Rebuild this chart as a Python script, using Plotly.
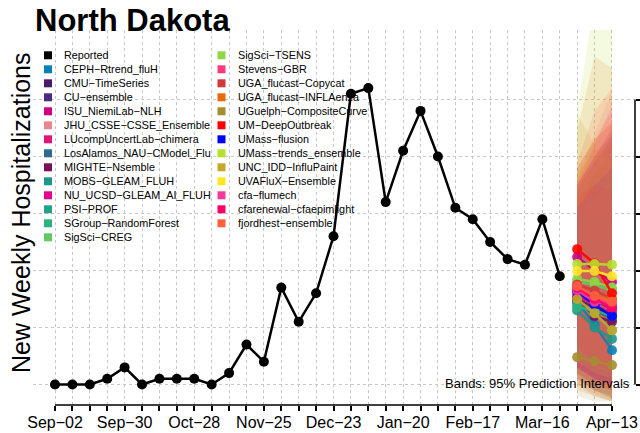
import pandas as pd
import plotly.graph_objects as go

# Weekly dates (week ending Saturday):
weeks = pd.date_range("2023-09-02", "2024-04-13", freq="7D")
tick_text = [d.strftime("%b\u2212%d") if i % 4 == 0 else "" for i, d in enumerate(weeks)]

# Reported weekly hospitalizations:
reported_dates = weeks[:30]
reported = [0, 0, 0, 2, 6, 0, 2, 2, 2, 0, 4, 14, 8, 34, 22, 32, 52, 102, 104, 64,
            82, 96, 80, 62, 58, 50, 44, 42, 58, 38]

# Forecast horizons:
forecast_dates = weeks[30:]

models = [
    "CEPH\u2212Rtrend_fluH", "CMU\u2212TimeSeries", "CU\u2212ensemble", "ISU_NiemiLab\u2212NLH",
    "JHU_CSSE\u2212CSSE_Ensemble", "LUcompUncertLab\u2212chimera", "LosAlamos_NAU\u2212CModel_Flu",
    "MIGHTE\u2212Nsemble", "MOBS\u2212GLEAM_FLUH", "NU_UCSD\u2212GLEAM_AI_FLUH", "PSI\u2212PROF",
    "SGroup\u2212RandomForest", "SigSci\u2212CREG", "SigSci\u2212TSENS", "Stevens\u2212GBR",
    "UGA_flucast\u2212Copycat", "UGA_flucast\u2212INFLAenza", "UGuelph\u2212CompositeCurve",
    "UM\u2212DeepOutbreak", "UMass\u2212flusion", "UMass\u2212trends_ensemble", "UNC_IDD\u2212InfluPaint",
    "UVAFluX\u2212Ensemble", "cfa\u2212flumech", "cfarenewal\u2212cfaepimlight", "fjordhest\u2212ensemble",
]
colors = [
    "#0B7FB8", "#4B1A6B", "#4A2A82", "#CC0088", "#E8878F", "#E0147A", "#2E6A8E",
    "#7A1058", "#1F968B", "#E0088A", "#20A386", "#2DB27D", "#5FCA61", "#8FD744",
    "#FF3A7A", "#CF3A3A", "#E86A0A", "#A88C30", "#FF0000", "#0000FF", "#B5E02E",
    "#C8A828", "#FDE725", "#F8399A", "#FF0066", "#FF6040",
]
median = [
    [29, 21, 12], [30, 27, 24], [31, 29, 27], [44.7, 40, 36], [31, 30, 29], [31, 28, 25],
    [29, 26, 23], [30, 24, 22], [26, 20, 16], [33, 30, 26], [28, 25, 19], [27, 26, 24],
    [36, 35, 33], [37, 36, 34], [35, 31, 28], [35, 33, 30], [33, 31, 30], [9.6, 8.2, 6.8],
    [47.5, 42.5, 32], [32.5, 28, 24], [42.3, 42.3, 42], [30, 25, 19], [39.8, 39.8, 38],
    [33, 29, 28], [34, 30, 27], [34.5, 31, 29],
]
lower = [
    [4, -2, -5], [6, 2, 0], [4, 0, -2], [8, 2, 0], [2, -2, -4], [2, -2, -4],
    [6, 2, 0], [4, 0, -2], [8, 4, 2], [6, 2, 0], [2, -2, -5], [8, 4, 2],
    [8, 4, 2], [10, 6, 4], [4, 0, -2], [0, -4, -6], [-2, -4, -6], [-4, -6, -6],
    [14, 8, 4], [6, 2, 0], [4, 0, -3], [0, -3, -6], [8, 4, 2],
    [4, 0, -2], [6, 2, 0], [2, -2, -4],
]
upper = [
    [66, 78, 88], [62, 72, 80], [70, 80, 88], [76, 86, 92], [72, 88, 103], [68, 78, 86],
    [64, 74, 82], [68, 78, 86], [56, 60, 64], [70, 78, 84], [70, 80, 88], [60, 66, 72],
    [70, 78, 84], [68, 76, 82], [72, 86, 96], [76, 86, 92], [89, 115, 111], [74, 82, 86],
    [66, 70, 68], [62, 70, 76], [96, 135, 170], [95, 84, 78], [74, 86, 94],
    [70, 84, 98], [70, 80, 90], [78, 96, 104],
]


def rgba(hex_color, alpha):
    h = hex_color.lstrip("#")
    r, g, b = int(h[0:2], 16), int(h[2:4], 16), int(h[4:6], 16)
    return f"rgba({r},{g},{b},{alpha})"


FONT = "Liberation Sans, Arial, Helvetica, sans-serif"

# Plot region in pixels (640x433 page):
L, R, T, B = 33, 635, 30, 405


def px(x):
    return (x - L) / (R - L)


def py(y):
    return (B - y) / (B - T)


fig = go.Figure()

# 95% prediction bands:
for name, col, lo, hi in zip(models, colors, lower, upper):
    fig.add_trace(go.Scatter(
        x=list(forecast_dates) + list(forecast_dates[::-1]),
        y=hi + lo[::-1],
        fill="toself",
        fillcolor=rgba(col, 0.15),
        line=dict(width=0),
        mode="lines",
        hoverinfo="skip",
        showlegend=False,
    ))

# Reported data:
fig.add_trace(go.Scatter(
    x=reported_dates, y=reported,
    mode="lines+markers",
    line=dict(color="black", width=2.5),
    marker=dict(color="black", size=10),
    name="Reported",
    showlegend=False,
))

# Forecast medians:
for name, col, med in zip(models, colors, median):
    fig.add_trace(go.Scatter(
        x=forecast_dates, y=med,
        mode="lines+markers",
        line=dict(color=col, width=2.5),
        marker=dict(color=col, size=10),
        opacity=0.9,
        name=name,
        showlegend=False,
    ))

# Axis ranges from pixel layout:
px_per_day = 17.406 / 7
x0 = weeks[0] - pd.Timedelta(days=(55 - L) / px_per_day)
x1 = weeks[0] + pd.Timedelta(days=(R - 55) / px_per_day)
y_per_px = 20 / 57
y0 = -(B - 384.5) * y_per_px
y1 = (384.5 - T) * y_per_px

grid = dict(showgrid=True, gridcolor="#C8C8C8", griddash="dot", gridwidth=1)

fig.update_xaxes(
    range=[x0, x1], automargin=False,
    tickmode="array", tickvals=list(weeks), ticktext=tick_text,
    ticks="outside", ticklen=5, tickcolor="black", tickwidth=1.5,
    showline=False, zeroline=False,
    tickfont=dict(family=FONT, size=16, color="black"),
    ticklabelstandoff=-2,
    **grid,
)
fig.update_yaxes(
    range=[y0, y1], side="right", automargin=False,
    tickvals=[0, 20, 40, 60, 80, 100],
    showticklabels=False,
    ticks="outside", ticklen=5, tickcolor="black", tickwidth=1.5,
    showline=False, zeroline=False,
    **grid,
)

shapes = [
    # axis lines, drawn only across the tick span
    dict(type="line", xref="x", yref="paper", x0=weeks[0], x1=weeks[-1], y0=0, y1=0,
         line=dict(color="black", width=1.5)),
    dict(type="line", xref="paper", yref="y", x0=1, x1=1, y0=0, y1=100,
         line=dict(color="black", width=1.5)),
]

annotations = [
    dict(text="<b>North Dakota</b>", xref="paper", yref="paper", x=px(33), y=py(20),
         xanchor="left", yanchor="middle", showarrow=False,
         font=dict(family=FONT, size=31, color="black")),
    dict(text="New Weekly Hospitalizations", xref="paper", yref="paper", x=px(21), y=py(213),
         xanchor="center", yanchor="middle", textangle=-90, showarrow=False,
         font=dict(family=FONT, size=25, color="black")),
    dict(text="Bands: 95% Prediction Intervals", xref="paper", yref="paper", x=px(632), y=py(383),
         xanchor="right", yanchor="middle", showarrow=False,
         font=dict(family=FONT, size=13, color="black")),
]

# Legend, two columns:
legend_names = ["Reported"] + models
legend_colors = ["black"] + colors
for i, (name, col) in enumerate(zip(legend_names, legend_colors)):
    if i < 14:
        sx, tx, row = 48, 62, i
    else:
        sx, tx, row = 221.5, 236, i - 14
    ry = 55.3 + 14 * row
    shapes.append(dict(type="rect", xref="paper", yref="paper",
                       x0=px(sx - 4), x1=px(sx + 4), y0=py(ry + 4), y1=py(ry - 4),
                       fillcolor=col, line=dict(width=0)))
    annotations.append(dict(text=name, xref="paper", yref="paper", x=px(tx), y=py(ry),
                            xanchor="left", yanchor="middle", showarrow=False,
                            font=dict(family=FONT, size=10.8, color="black")))

fig.update_layout(
    width=640, height=433,
    margin=dict(l=L, r=640 - R, t=T, b=433 - B),
    plot_bgcolor="white", paper_bgcolor="white",
    showlegend=False,
    shapes=shapes,
    annotations=annotations,
)

# the page body has a default margin; drop it so the figure sits at the corner
fig.write_html("out.html", config={"displayModeBar": False},
               post_script="document.body.style.margin='0px';")
